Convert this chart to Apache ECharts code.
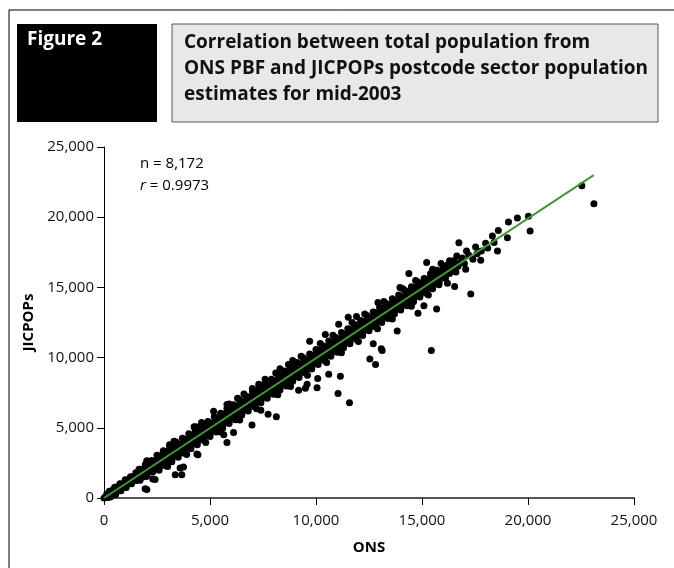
<!DOCTYPE html>
<html><head><meta charset="utf-8">
<script src="https://cdn.jsdelivr.net/npm/echarts@6/dist/echarts.min.js"></script>
<style>html,body{margin:0;padding:0;background:#fff}#c{width:674px;height:568px}</style>
</head><body><div id="c"></div>
<script>
// ---- data ----
const xTicks = [0, 5000, 10000, 15000, 20000, 25000];
const yTicks = [0, 5000, 10000, 15000, 20000, 25000];
const titleLines = ["Correlation between total population from", "ONS PBF and JICPOPs postcode sector population", "estimates for mid-2003"];
const figureLabel = "Figure 2";
const nText = "n = 8,172";
const rValue = "0.9973";
const xName = "ONS";
const yName = "JICPOPs";

const bandCore = [[0,0],[50,60],[200,180],[400,430],[600,580],[800,820],[1000,980],[1200,1230],[1400,1380],[1600,1620],[1800,1770],[2000,2030],[2200,2180],[2400,2420],[2600,2570],[2800,2830],[3000,2980],[3200,3240],[3400,3370],[3600,3620],[3800,3790],[4000,4040],[4200,4170],[4400,4420],[4600,4580],[4800,4830],[5000,4970],[5200,5240],[5400,5380],[5600,5610],[5800,5780],[6000,6040],[6200,6170],[6400,6420],[6600,6590],[6800,6830],[7000,6970],[7200,7230],[7400,7380],[7600,7620],[7800,7790],[8000,8030],[8200,8170],[8400,8420],[8600,8580],[8800,8830],[9000,8980],[9200,9230],[9400,9370],[9600,9630],[9800,9790],[10000,10030],[10200,10170],[10400,10420],[10600,10590],[10800,10830],[11000,10970],[11200,11230],[11400,11380],[11600,11620],[11800,11790],[12000,12030],[12200,12170],[12400,12420],[12600,12580],[12800,12830],[13000,12980],[13200,13230],[13400,13380],[13600,13620],[13800,13790],[14000,14030],[14200,14170],[14400,14420],[14600,14590],[14800,14830],[15000,14970],[15200,15230],[15400,15380],[15600,15620],[15800,15790],[16000,16030],[16300,16250],[16600,16620]];
const bandUpperH = [[125,270],[375,530],[625,790],[875,1020],[1125,1280],[1375,1520],[1625,1780],[1875,2030],[2125,2280],[2375,2520],[2625,2790],[2875,3020],[3125,3280],[3375,3530],[3625,3790],[3875,4020],[4125,4280],[4375,4520],[4625,4790],[4875,5030],[5125,5280],[5375,5520],[5625,5790],[5875,6020],[6125,6280],[6375,6530],[6625,6790],[6875,7020],[7125,7280],[7375,7530],[7625,7790],[7875,8020],[8125,8280],[8375,8530],[8625,8790],[8875,9020],[9125,9280],[9375,9530],[9625,9790],[9875,10020],[10125,10280],[10375,10530],[10625,10790],[10875,11020],[11125,11280],[11375,11530],[11625,11790],[11875,12020],[12125,12280],[12375,12530],[12625,12790],[12875,13020],[13125,13280],[13375,13530],[13625,13790],[13875,14020],[14125,14280],[14375,14530],[14625,14790],[14875,15020],[15125,15280],[15375,15530],[15625,15790],[15875,16020],[16125,16280],[16375,16530]];
const bandLowerH = [[175,30],[425,260],[675,520],[925,760],[1175,1010],[1425,1260],[1675,1520],[1925,1760],[2175,2010],[2425,2260],[2675,2520],[2925,2760],[3175,3010],[3425,3260],[3675,3520],[3925,3760],[4175,4010],[4425,4260],[4675,4520],[4925,4760],[5175,5010],[5425,5260],[5675,5520],[5925,5760],[6175,6010],[6425,6260],[6675,6520],[6925,6760],[7175,7010],[7425,7260],[7675,7520],[7925,7760],[8175,8010],[8425,8260],[8675,8520],[8925,8760],[9175,9010],[9425,9260],[9675,9520],[9925,9760],[10175,10010],[10425,10260],[10675,10520],[10925,10760],[11175,11010],[11425,11260],[11675,11520],[11925,11760],[12175,12010],[12425,12260],[12675,12520],[12925,12760],[13175,13010],[13425,13260],[13675,13520],[13925,13760],[14175,14010],[14425,14260],[14675,14520],[14925,14760],[15175,15010],[15425,15260],[15675,15520],[15925,15760],[16175,16010]];
const bandUpperA = [[250,480],[500,760],[750,1020],[1000,1300],[1250,1510],[1500,1800],[1750,2040],[2000,2300],[2250,2560],[2500,2790],[2750,3080],[3000,3310],[3250,3560],[3500,3790],[3750,4060],[4000,4300],[4250,4540],[4500,4800],[4750,5060],[5000,5290],[5250,5540],[5500,5800],[5750,6040],[6000,6290],[6250,6560],[6500,6790],[6750,7050],[7000,7300],[7250,7540],[7500,7800],[7750,8040],[8000,8300],[8250,8560],[8500,8790],[8750,9060],[9000,9290],[9250,9550],[9500,9800],[9750,10040],[10000,10300],[10250,10560],[10500,10790],[10750,11050],[11000,11290],[11250,11540],[11500,11800],[11750,12060],[12000,12290],[12250,12550],[12500,12800],[12750,13040],[13000,13300],[13250,13560],[13500,13790],[13750,14050],[14000,14290],[14250,14540],[14500,14800],[14750,15060],[15000,15280],[15250,15550],[15500,15780],[15750,16050],[16000,16280],[16250,16500]];
const bandLowerA = [[300,80],[550,250],[800,520],[1050,740],[1300,1010],[1550,1240],[1800,1480],[2050,1740],[2300,1990],[2550,2230],[2800,2500],[3050,2740],[3300,2990],[3550,3240],[3800,3480],[4050,3750],[4300,3990],[4550,4230],[4800,4490],[5050,4740],[5300,4990],[5550,5240],[5800,5480],[6050,5740],[6300,5990],[6550,6230],[6800,6490],[7050,6740],[7300,6990],[7550,7230],[7800,7480],[8050,7740],[8300,7990],[8550,8230],[8800,8490],[9050,8740],[9300,8990],[9550,9230],[9800,9480],[10050,9740],[10300,9990],[10550,10230],[10800,10490],[11050,10740],[11300,10990],[11550,11230],[11800,11480],[12050,11740],[12300,11990],[12550,12230],[12800,12480],[13050,12740],[13300,12990],[13550,13230],[13800,13480],[14050,13740],[14300,13990],[14550,14230],[14800,14480],[15050,14740],[15300,14990],[15550,15230],[15800,15480],[16050,15740],[16300,15990]];
const bandUpperC = [[1650,2050],[1950,2390],[2250,2670],[2550,2990],[2850,3270],[3150,3590],[3450,3870],[3750,4190],[4050,4470],[4350,4790],[4650,5070],[4950,5390],[5250,5670],[5550,5990],[5850,6270],[6150,6590],[6450,6870],[6750,7190],[7050,7470],[7350,7790],[7650,8070],[7950,8390],[8250,8670],[8550,8990],[8850,9270],[9150,9590],[9450,9870],[9750,10190],[10050,10470],[10350,10790],[10650,11070],[10950,11390],[11250,11670],[11550,11990],[11850,12270],[12150,12590],[12450,12870],[12750,13190],[13050,13470],[13350,13790],[13650,14070],[13950,14390],[14250,14670],[14550,14990],[14850,15270],[15150,15590],[15450,15870],[15750,16190],[16050,16470]];
const bandLowerC = [[1700,1270],[2000,1540],[2300,1860],[2600,2140],[2900,2460],[3200,2740],[3500,3060],[3800,3340],[4100,3660],[4400,3940],[4700,4260],[5000,4540],[5300,4860],[5600,5140],[5900,5460],[6200,5740],[6500,6060],[6800,6340],[7100,6660],[7400,6940],[7700,7260],[8000,7540],[8300,7860],[8600,8140],[8900,8460],[9200,8740],[9500,9060],[9800,9340],[10100,9660],[10400,9940],[10700,10260],[11000,10540],[11300,10860],[11600,11140],[11900,11460],[12200,11740],[12500,12060],[12800,12340],[13100,12660],[13400,12940],[13700,13260],[14000,13540],[14300,13860],[14600,14140],[14900,14460],[15200,14740],[15500,15060],[15800,15340],[16100,15660]];
const bandUpperB = [[2500,3050],[2800,3370],[3100,3650],[3400,3980],[3700,4250],[4000,4580],[4300,4850],[4600,5170],[4900,5450],[5200,5780],[5500,6040],[5800,6370],[6100,6650],[6400,6980],[6700,7250],[7000,7580],[7300,7850],[7600,8180],[7900,8450],[8200,8790],[8500,9050],[8800,9380],[9100,9650],[9400,9990],[9700,10250],[10000,10580],[10300,10850],[10600,11190],[10900,11450],[11200,11790],[11500,12050],[11800,12380],[12100,12650],[12400,12990],[12700,13250],[13000,13580],[13300,13850],[13600,14190],[13900,14450],[14200,14780],[14500,15050],[14800,15380],[15100,15640],[15400,15970],[15700,16230]];
const bandLowerB = [[2600,1980],[2900,2300],[3200,2580],[3500,2910],[3800,3180],[4100,3500],[4400,3790],[4700,4110],[5000,4380],[5300,4700],[5600,4990],[5900,5300],[6200,5580],[6500,5910],[6800,6190],[7100,6500],[7400,6780],[7700,7110],[8000,7390],[8300,7700],[8600,7980],[8900,8310],[9200,8590],[9500,8900],[9800,9180],[10100,9510],[10400,9790],[10700,10100],[11000,10380],[11300,10710],[11600,10990],[11900,11300],[12200,11580],[12500,11910],[12800,12190],[13100,12500],[13400,12780],[13700,13110],[14000,13390],[14300,13700],[14600,13980],[14900,14310],[15200,14590],[15500,14900],[15800,15180]];
const edgeUpper = [[3300,4050],[4600,5380],[5900,6700],[6600,7400],[7300,8100],[8100,8900],[8700,9500],[9300,10100],[10200,11000],[10800,11600],[11700,12500],[12300,13100],[13200,14000],[14100,14900],[14700,15500],[15500,16300]];
const edgeLower = [[3000,2250],[3900,3100],[4800,3950],[5500,4700],[6400,5550],[7200,6350],[8200,7350],[8800,7950],[9600,8750],[10500,9650],[11200,10350],[12000,11150],[12900,12050],[13600,12750],[14500,13650],[15300,14450],[16200,15300]];
const scatterUpper = [[2017,2655],[2800,3310],[3090,3790],[4250,5080],[4330,5080],[5170,6180],[5800,6660],[6300,7100],[7000,7800],[7600,8450],[8300,9200],[8900,9800],[9700,11170],[10440,11650],[11070,12380],[11520,12870],[11910,12920],[12920,13930],[13960,15000],[14380,15990],[15220,16770],[16640,17240],[16740,18180]];
const scatterLower = [[1940,650],[2020,600],[2300,1360],[2410,1310],[3360,1660],[3670,1660],[3590,2140],[3750,2210],[4380,3130],[4430,3080],[5650,4500],[5800,3960],[6110,4660],[6980,5200],[7400,6250],[7740,5960],[8130,5790],[9180,7680],[9500,7820],[9580,8100],[10050,7860],[10080,8510],[10600,8810],[11150,8670],[11040,7450],[11580,6790],[12540,9900],[12810,9500],[12700,10990],[13080,10630],[13120,10510],[13830,11900],[14810,13150],[15090,13700],[15690,13470],[15440,10510],[16540,15070],[17300,14530],[17060,16300]];
const highCluster = [[15400,15000],[15600,16200],[15800,15400],[15900,16700],[16000,16300],[16100,15700],[16200,16600],[16300,16900],[16400,16300],[16500,16900],[16600,16100],[16700,16500],[16800,16800],[16900,17100],[17000,16700],[17100,17600],[17200,17300],[17400,17000],[17530,17880],[17600,17400],[17770,16940],[17800,17600],[18000,18150],[18100,17800],[18320,18660],[18400,18200],[18560,17600],[18600,19060],[19030,18540],[19080,19650],[19500,19950],[20020,20070],[20100,19010]];
const extremes = [[22540,22240],[23110,20960]];
const fitLine = [[0,0],[23100,23000]];

const points = [].concat(bandCore, bandUpperH, bandLowerH, bandUpperA, bandLowerA, bandUpperC, bandLowerC, bandUpperB, bandLowerB, edgeUpper, edgeLower, scatterUpper, scatterLower, highCluster, extremes);

const chart = echarts.init(document.getElementById('c'), null, {renderer:'canvas'});
const FONT = 'Open Sans';
const fmt = v => v.toLocaleString('en-US');
chart.setOption({
  backgroundColor:'#fff',
  animation:false,
  grid:{left:104, right:40, top:147, bottom:70},
  xAxis:{type:'value', min:0, max:25000, interval:5000, name:xName, nameLocation:'middle', nameGap:42,
    nameTextStyle:{fontFamily:FONT, fontWeight:'bold', fontSize:15, color:'#000'},
    axisLine:{lineStyle:{color:'#555', width:2}}, axisTick:{length:7, lineStyle:{color:'#000'}},
    axisLabel:{fontFamily:FONT, fontSize:15, color:'#111', margin:15, formatter:fmt}, splitLine:{show:false}},
  yAxis:{type:'value', min:0, max:25000, interval:5000, name:yName, nameLocation:'middle', nameGap:64,
    nameTextStyle:{fontFamily:FONT, fontWeight:'bold', fontSize:15, color:'#000'},
    axisLine:{show:true, lineStyle:{color:'#000', width:1}}, axisTick:{show:true, length:7, lineStyle:{color:'#000'}},
    axisLabel:{fontFamily:FONT, fontSize:15, color:'#111', margin:10, formatter:fmt}, splitLine:{show:false}},
  graphic:[
    {type:'line', shape:{x1:9, y1:10, x2:9, y2:568}, style:{stroke:'#000', lineWidth:1}},
    {type:'line', shape:{x1:9, y1:10, x2:674, y2:10}, style:{stroke:'#000', lineWidth:1}},
    {type:'rect', shape:{x:17, y:24, width:140, height:98}, style:{fill:'#000'}},
    {type:'text', left:27, top:30, style:{text:figureLabel, fill:'#fff', font:'bold 19px "Open Sans"'}},
    {type:'rect', shape:{x:172, y:24, width:486, height:98}, style:{fill:'#e8e8e8', stroke:'#555', lineWidth:1}},
    {type:'text', left:184, top:30, style:{text:titleLines.join('\n'), fill:'#111', font:'bold 19px "Open Sans"', lineHeight:26}},
    {type:'text', left:140, top:156, style:{rich:{a:{fontFamily:FONT, fontSize:15, color:'#111', lineHeight:22}, i:{fontFamily:FONT, fontSize:15, fontStyle:'italic', color:'#111', lineHeight:22}}, text:'{a|'+nText+'}\n{i|r}{a| = '+rValue+'}'}}
  ],
  series:[
    {type:'scatter', data:points, symbolSize:7, itemStyle:{color:'#000', opacity:1}, silent:true, z:2},
    {type:'line', data:fitLine, showSymbol:false, lineStyle:{color:'#3f9a35', width:2}, silent:true, z:3}
  ]
});
</script></body></html>
